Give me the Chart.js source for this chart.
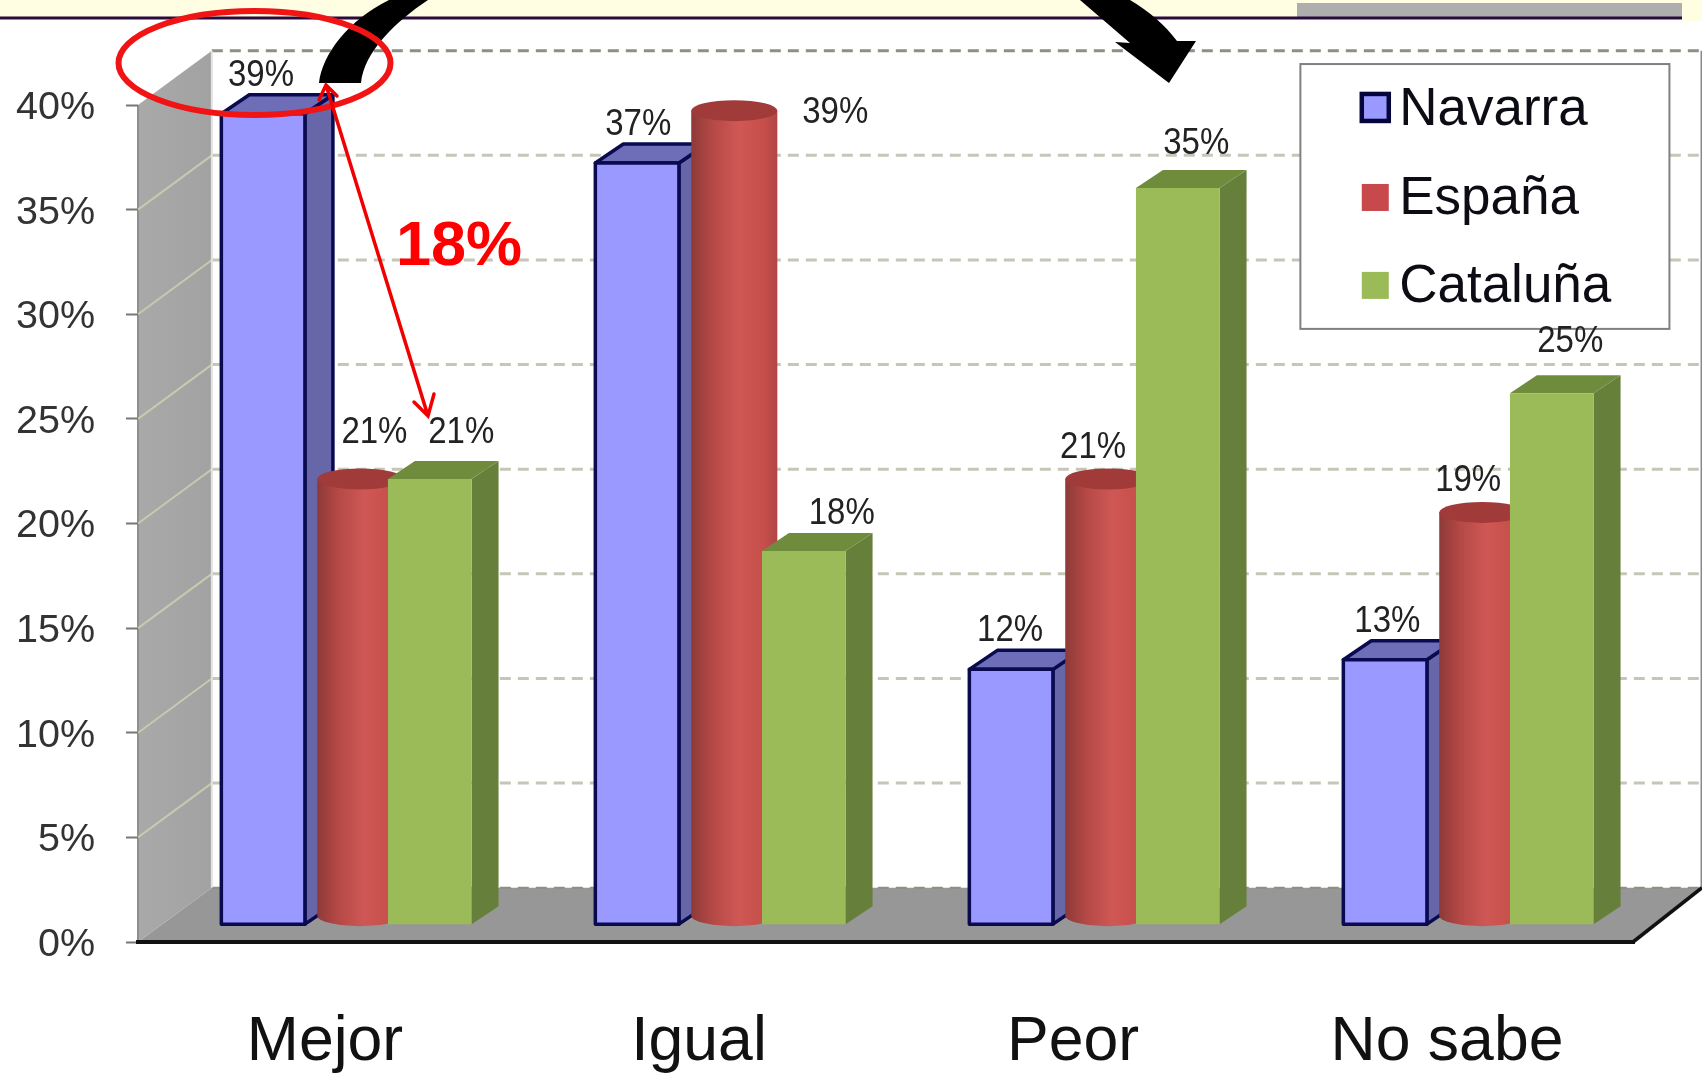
<!DOCTYPE html>
<html><head><meta charset="utf-8">
<style>html,body{margin:0;padding:0;background:#fff}canvas{display:block;filter:blur(.6px)}</style>
<script src="https://cdn.jsdelivr.net/npm/chart.js@4"></script>
</head><body>
<canvas id="c" width="1702" height="1074" style="width:1702px;height:1074px"></canvas>
<script>
const categories = ['Mejor','Igual','Peor','No sabe'];
const seriesNames = ['Navarra','España','Cataluña'];
const navarra = [38.75,36.4,12.2,12.66];
const espana = [21.3,38.9,21.3,19.7];
const cataluna = [21.3,17.85,35.2,25.4];
const navarraLabels = ['39%','37%','12%','13%'];
const espanaLabels = ['21%','39%','21%','19%'];
const catalunaLabels = ['21%','18%','35%','25%'];
const yTicks = [0,5,10,15,20,25,30,35,40];

const K = 1702/1568;
const FONT = '"Liberation Sans", Arial, sans-serif';
const wallX = 68*K, wallY = 50*K;        // depth of the back wall
const barLift = 16*K;                    // bars stand this far behind the front axis
const shifts = [-57*K, 32.5*K, 96.5*K];  // uneven series placement of the original
const labelNudge = [
  [[-2,-34.5],[1,-34.5],[-1,-35.5],[2,-34.5]],
  [[13,-42.5],[93,2.5],[-14,-28.5],[-13,-28.5]],
  [[29,-42.5],[35,-34.5],[17,-40.5],[17,-47.5]]
];
const labelSets = [navarraLabels, espanaLabels, catalunaLabels];

function poly(ctx, pts, fill, stroke, lw){
  ctx.beginPath();
  pts.forEach((p,i)=> i?ctx.lineTo(p[0],p[1]):ctx.moveTo(p[0],p[1]));
  ctx.closePath();
  if(fill){ctx.fillStyle=fill;ctx.fill();}
  if(stroke){ctx.strokeStyle=stroke;ctx.lineWidth=lw;ctx.lineJoin='round';ctx.stroke();}
}

function drawBox(ctx,x,top,base,w,c){
  const l=x-w/2,r=x+w/2,dX=c.dx,dY=c.dy;
  poly(ctx,[[r,top],[r+dX,top-dY],[r+dX,base-dY],[r,base]],c.side,c.stroke,c.lw);
  poly(ctx,[[l,top],[l+dX,top-dY],[r+dX,top-dY],[r,top]],c.top,c.stroke,c.lw);
  poly(ctx,[[l,top],[r,top],[r,base],[l,base]],c.front,c.stroke,c.lw);
}
function drawCylinder(ctx,x,top,base,w){
  const l=x-w/2,r=x+w/2,ry=10.5,yb=base-ry+2;
  const g=ctx.createLinearGradient(l,0,r,0);
  g.addColorStop(0,'#8E3A38');g.addColorStop(.25,'#B54946');g.addColorStop(.55,'#CF5855');g.addColorStop(.85,'#C64E4B');g.addColorStop(1,'#B04543');
  ctx.beginPath();
  ctx.moveTo(l,top);ctx.lineTo(l,yb);
  ctx.ellipse(x,yb,w/2,ry,0,Math.PI,0,true);
  ctx.lineTo(r,top);ctx.closePath();
  ctx.fillStyle=g;ctx.fill();
  ctx.beginPath();ctx.ellipse(x,top,w/2,ry,0,0,Math.PI*2);ctx.fillStyle='#A03B39';ctx.fill();
}

const stage = {
  id:'stage',
  beforeDraw(chart){
    const {ctx,chartArea:a,scales:{y}}=chart;
    ctx.save();
    ctx.fillStyle='#fff';ctx.fillRect(0,0,chart.width,chart.height);
    // header
    ctx.fillStyle='#FFFDE2';ctx.fillRect(0,0,1702,17);ctx.fillRect(1682,0,20,21);
    ctx.fillStyle='#AEAEAE';ctx.fillRect(1297,3,385,14);
    ctx.fillStyle='#2B0A3D';ctx.fillRect(0,16.5,1682,3);
    const y0=y.getPixelForValue(0),y40=y.getPixelForValue(40);
    const bx=a.left+wallX;
    // floor and side wall
    poly(ctx,[[a.left,y0],[bx,y0-wallY],[1702,y0-wallY],[1702,y0-wallY],[a.right,y0]],'#979797');
    const wg=ctx.createLinearGradient(a.left,0,bx,0);wg.addColorStop(0,'#A9A9A9');wg.addColorStop(1,'#A2A2A2');
    poly(ctx,[[a.left,y40],[bx,y40-wallY],[bx,y0-wallY],[a.left,y0]],wg);
    ctx.fillStyle='#8f8f8f';ctx.fillRect(a.left-1,y40,2,y0-y40);
    // back wall grid and its continuation on the side wall
    yTicks.forEach(v=>{
      const py=y.getPixelForValue(v);
      if(v>0&&v<40){
        ctx.strokeStyle='#C8C9AE';ctx.lineWidth=2;ctx.beginPath();ctx.moveTo(a.left,py);ctx.lineTo(bx,py-wallY);ctx.stroke();
      }
      ctx.strokeStyle=(v===40||v===0)?'#8E8E84':'#C6C6B8';
      ctx.lineWidth=v===0?2:3;ctx.setLineDash([11,7]);
      ctx.beginPath();ctx.moveTo(bx,py-wallY);ctx.lineTo(1702,py-wallY);ctx.stroke();
      ctx.setLineDash([]);
    });
    ctx.fillStyle='#E2E2E2';ctx.fillRect(bx-1,y40-wallY,2,y0-y40);
    ctx.fillStyle='#8A8A8A';ctx.fillRect(1700.5,y40-wallY,1.5,y0-y40);
    // slanted edge of the floor
    ctx.strokeStyle='#111';ctx.lineWidth=3.5;ctx.beginPath();ctx.moveTo(a.right-1,y0);ctx.lineTo(1702,y0-wallY);ctx.stroke();
    ctx.restore();
  },
  beforeDatasetDraw(){ return false; },
  afterDatasetsDraw(chart){
    const ctx=chart.ctx;
    ctx.save();
    const styles=[
      {front:'#9999FF',side:'#6666A8',top:'#6E6EB8',stroke:'#0A0A50',lw:3.5,dx:28,dy:19},
      null,
      {front:'#9BBB59',side:'#667F3A',top:'#6F8C3C',stroke:null,lw:0,dx:27,dy:18}
    ];
    [0,1,2].forEach(i=>{
      chart.getDatasetMeta(i).data.forEach(el=>{
        const x=el.x+shifts[i],top=el.y-barLift,base=el.base-barLift;
        if(i===1) drawCylinder(ctx,x,top,base,el.width*1.03);
        else drawBox(ctx,x,top,base,el.width,styles[i]);
      });
    });
    ctx.restore();
  },
  afterDraw(chart){
    const ctx=chart.ctx;
    ctx.save();
    // legend
    const lx=1198*K,ly=59*K,lw=340*K,lh=244*K;
    ctx.fillStyle='#fff';ctx.fillRect(lx,ly,lw,lh);
    ctx.strokeStyle='#808080';ctx.lineWidth=2;ctx.strokeRect(lx,ly,lw,lh);
    const rows=[99,181,262].map(v=>v*K);
    const fills=['#9999FF','#C8494B','#9BBB59'];
    chart.data.datasets.forEach((d,i)=>{
      const sz=27,sx=1267*K-sz/2,sy=rows[i]-sz/2+(i===0?0:1);
      ctx.fillStyle=fills[i];ctx.fillRect(sx,sy,sz,sz);
      if(i===0){ctx.strokeStyle='#05053C';ctx.lineWidth=4.5;ctx.strokeRect(sx,sy,sz,sz);}
      ctx.fillStyle='#0c0c14';ctx.font='53px '+FONT;ctx.textAlign='left';ctx.textBaseline='middle';
      ctx.fillText(d.label,1289*K,rows[i]+3);
    });
    // value labels
    ctx.font='36px '+FONT;ctx.fillStyle='#222';ctx.textAlign='center';ctx.textBaseline='middle';
    [0,1,2].forEach(i=>{
      chart.getDatasetMeta(i).data.forEach((el,j)=>{
        const n=labelNudge[i][j];
        ctx.fillText(labelSets[i][j],el.x+shifts[i]+n[0]*K,el.y-barLift+n[1]*K,66);
      });
    });
    // black curved arrow, left end
    ctx.fillStyle='#000';
    ctx.beginPath();
    ctx.moveTo(319,83);ctx.bezierCurveTo(322,55,348,20,389,0);ctx.lineTo(428,0);
    ctx.bezierCurveTo(395,22,364,52,361,83);ctx.closePath();ctx.fill();
    // black curved arrow, right end
    ctx.beginPath();
    ctx.moveTo(1080,0);ctx.lineTo(1130,43);ctx.lineTo(1115,42);ctx.lineTo(1169,83);ctx.lineTo(1196,41);ctx.lineTo(1177,41);
    ctx.bezierCurveTo(1165,25,1150,12,1130,0);ctx.closePath();ctx.fill();
    // red ellipse
    ctx.strokeStyle='#F01414';ctx.lineWidth=6;
    ctx.beginPath();ctx.ellipse(254.5,63,136,52,0,0,Math.PI*2);ctx.stroke();
    // red double arrow
    ctx.strokeStyle='#F00000';ctx.lineWidth=3.5;ctx.lineCap='round';
    ctx.beginPath();ctx.moveTo(326,85);ctx.lineTo(428,416);
    ctx.moveTo(319,100);ctx.lineTo(326,85);ctx.lineTo(337,96);
    ctx.moveTo(414,402);ctx.lineTo(428,416);ctx.lineTo(434,394);ctx.stroke();
    // difference label
    ctx.fillStyle='#FF0000';ctx.font='bold 63px '+FONT;ctx.textAlign='center';ctx.textBaseline='alphabetic';
    ctx.fillText('18%',459,265);
    ctx.restore();
  }
};

const mk=(label,data)=>({label,data,backgroundColor:'#888',grouped:false,categoryPercentage:1,barPercentage:77/344.5});
new Chart(document.getElementById('c'),{
  type:'bar',
  data:{labels:categories,datasets:[mk(seriesNames[0],navarra),mk(seriesNames[1],espana),mk(seriesNames[2],cataluna)]},
  plugins:[stage],
  options:{
    responsive:false,animation:false,devicePixelRatio:1,
    layout:{padding:{top:105,right:68,left:0,bottom:0}},
    plugins:{legend:{display:false},tooltip:{enabled:false},title:{display:false}},
    scales:{
      x:{type:'category',offset:true,
        afterFit(s){s.height=132;},
        grid:{display:false},
        border:{display:true,color:'#111',width:4},
        ticks:{color:'#111',padding:55,maxRotation:0,font:{family:FONT,size:62.5}}},
      y:{type:'linear',min:0,max:40,
        afterFit(s){s.width=138;},
        afterBuildTicks(s){s.ticks=yTicks.map(v=>({value:v}));},
        border:{display:false},
        grid:{drawOnChartArea:false,drawTicks:true,tickLength:12,tickColor:'#777',tickWidth:2},
        ticks:{color:'#333',padding:31,labelOffset:3,font:{family:FONT,size:39.5},callback:v=>v+'%'}}
    }
  }
});
</script>
</body></html>
